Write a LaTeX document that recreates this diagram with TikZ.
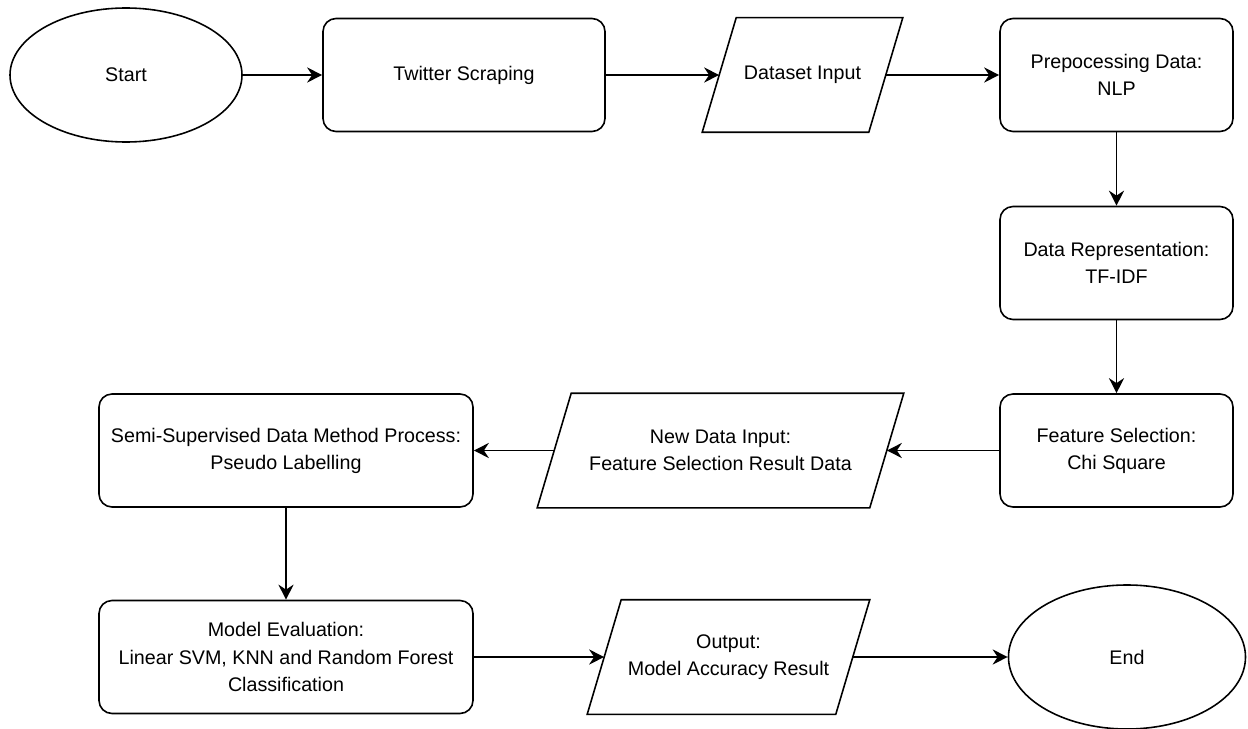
\documentclass[tikz,border=0pt]{standalone}
\usepackage{fontspec}
\setmainfont{Liberation Sans}
\usetikzlibrary{positioning,shapes.geometric,arrows.meta}
\tikzset{procbox/.style = {rectangle,draw,rounded corners=0.26cm,minimum width=4.66cm,minimum height=2.26cm,align=center},
         iobox/.style   = {rectangle,minimum height=2.26cm,align=center},
         termbox/.style = {ellipse,draw,minimum width=4.64cm,minimum height=2.68cm},
         arr/.style     = {-{Stealth[length=3mm,width=3mm]}}}

\begin{document}
\begin{tikzpicture}[line width=0.9pt,font=\fontsize{11.2}{15.4}\selectfont]
            \useasboundingbox (0,0) rectangle (24.96,-14.58);
            \node[termbox] (A) at ( 2.52, -1.50) {Start};
            \node[procbox,minimum width=5.64cm] (B) at ( 9.28, -1.50) {Twitter Scraping};
            \node[iobox,minimum width=3.30cm] (C) at (16.05, -1.50) {Dataset Input};
            \node[procbox] (D) at (22.33, -1.50) {Prepocessing Data:\\NLP};
            \node[procbox] (E) at (22.33, -5.26) {Data Representation:\\TF-IDF};
            \node[procbox] (F) at (22.33, -9.01) {Feature Selection:\\Chi Square};
            \node[iobox,minimum width=6.62cm] (G) at (14.41, -9.01) {New Data Input:\\Feature Selection Result Data};
            \node[procbox,minimum width=7.48cm] (H) at ( 5.72, -9.01) {Semi-Supervised Data Method Process:\\Pseudo Labelling};
            \node[procbox,minimum width=7.48cm] (I) at ( 5.72,-13.14) {Model Evaluation:\\Linear SVM, KNN and Random Forest\\Classification};
            \node[iobox,minimum width=4.94cm] (J) at (14.57,-13.14) {Output:\\Model Accuracy Result};
            \node[termbox,minimum width=4.74cm,minimum height=2.88cm] (K) at (22.54,-13.14) {End};
            % slanted outlines of the data boxes
            \foreach \n in {C,G,J}
                \draw ([xshift=0.34cm]\n.north west) -- ([xshift=0.34cm]\n.north east)
                   -- ([xshift=-0.34cm]\n.south east) -- ([xshift=-0.34cm]\n.south west) -- cycle;
            \draw[arr] (A) -- (B);
            \draw[arr] (B) -- (C);
            \draw[arr] (C) -- (D);
            \draw[arr] (D) -- (E);
            \draw[arr] (E) -- (F);
            \draw[arr] (F) -- (G);
            \draw[arr] (G) -- (H);
            \draw[arr] (H) -- (I);
            \draw[arr] (I) -- (J);
            \draw[arr] (J) -- (K);
        \end{tikzpicture}
\end{document}
